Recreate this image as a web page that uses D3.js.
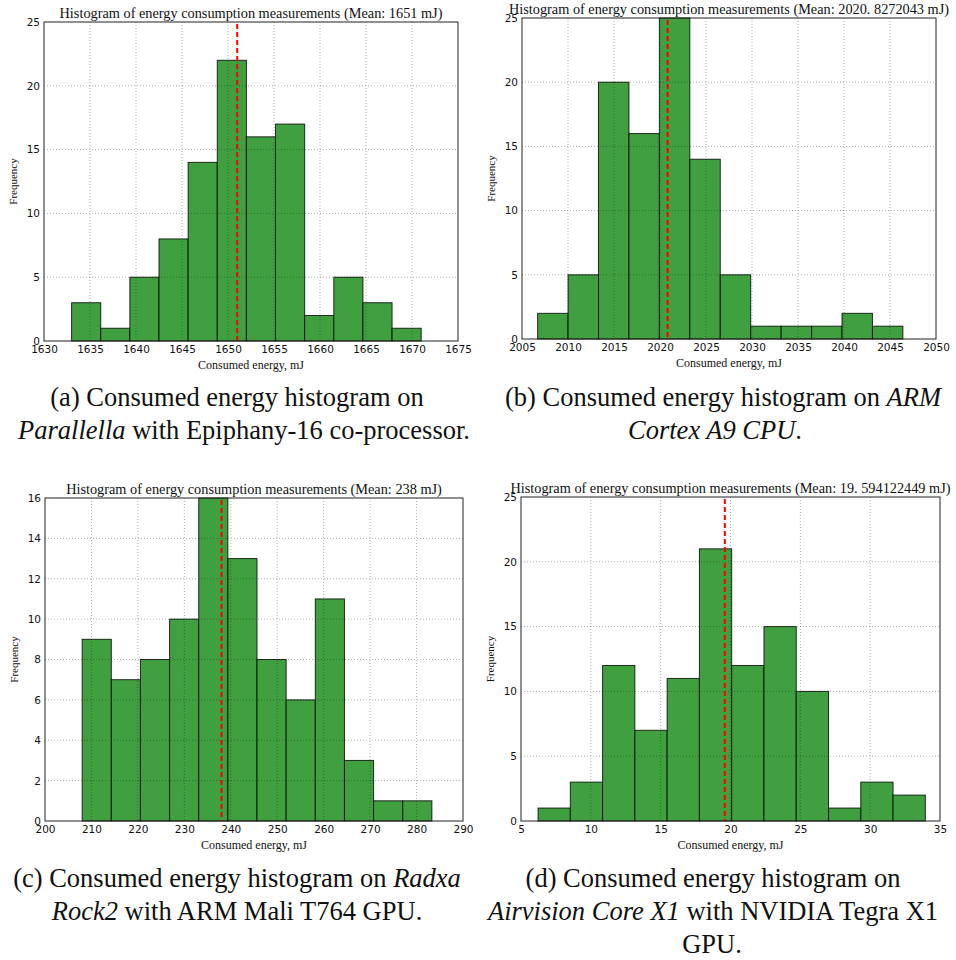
<!DOCTYPE html>
<html lang="en">
<head>
    <meta charset="utf-8">
    <title>Energy histograms</title>
    <style>
        body { margin: 0; background: #fff; }
        .grid line { stroke: #000; stroke-opacity: 0.45; stroke-width: 0.7px; stroke-dasharray: 1,2; }
        .bar { fill: #40a040; stroke: #000; stroke-opacity: 0.8; stroke-width: 1px; }
        .frame { fill: none; stroke: #222; stroke-width: 1px; }
        .tick text { font-family: "DejaVu Sans", sans-serif; font-size: 10.5px; fill: #111; }
        .title, .xlab, .ylab, .caption { font-family: "Liberation Serif", serif; fill: #111; }
        .mean { stroke: #ff0000; stroke-width: 2px; stroke-dasharray: 5,3; }
    </style>
</head>
<body>
<script src="https://d3js.org/d3.v7.min.js"></script>
<script>
  // bin range (first edge, last edge) and counts, 12 bins each
  const rangeA = [1633.0, 1671.0],
    countsA = [3, 1, 5, 8, 14, 22, 16, 17, 2, 5, 3, 1];
  const rangeB = [2006.7, 2046.4],
    countsB = [2, 5, 20, 16, 25, 14, 5, 1, 1, 1, 2, 1];
  const rangeC = [208.0, 283.3],
    countsC = [9, 7, 8, 10, 16, 13, 8, 6, 11, 3, 1, 1];
  const rangeD = [6.22, 33.95],
    countsD = [1, 3, 12, 7, 11, 21, 12, 15, 10, 1, 3, 2];

  const means = [1651, 2020.8272043, 238, 19.594122449];
  const meanLabels = ["1651", "2020. 8272043", "238", "19. 594122449"];

  const xDomains = [[1630, 1675], [2005, 2050], [200, 290], [5, 35]];
  const xTicks = [
    [1630, 1635, 1640, 1645, 1650, 1655, 1660, 1665, 1670, 1675],
    [2005, 2010, 2015, 2020, 2025, 2030, 2035, 2040, 2045, 2050],
    [200, 210, 220, 230, 240, 250, 260, 270, 280, 290],
    [5, 10, 15, 20, 25, 30, 35]
  ];
  const yMax = [25, 25, 16, 25];
  const yTicks = [
    [0, 5, 10, 15, 20, 25],
    [0, 5, 10, 15, 20, 25],
    [0, 2, 4, 6, 8, 10, 12, 14, 16],
    [0, 5, 10, 15, 20, 25]
  ];

  const captions = [
    [{t: "(a) Consumed energy histogram on"}, {t: "", i: "Parallella", r: " with Epiphany-16 co-processor."}],
    [{t: "(b) Consumed energy histogram on ", i: "ARM"}, {t: "", i: "Cortex A9 CPU", r: "."}],
    [{t: "(c) Consumed energy histogram on ", i: "Radxa"}, {t: "", i: "Rock2", r: " with ARM Mali T764 GPU."}],
    [{t: "(d) Consumed energy histogram on"}, {t: "", i: "Airvision Core X1", r: " with NVIDIA Tegra X1"}, {t: "GPU."}]
  ];

  // plot boxes [left, top, right, bottom] and caption placement
  const boxes = [[44, 22, 458, 341], [522, 18, 936, 339], [45, 498, 463, 821], [521, 497, 940, 821]];
  const captionCenters = [[237, 244], [723, 715], [237, 237], [713, 713, 712]];
  const captionTops = [406, 406, 887, 887];

  const svg = d3.select("body").append("svg")
    .attr("width", 956)
    .attr("height", 960);

  const ranges = [rangeA, rangeB, rangeC, rangeD],
    counts = [countsA, countsB, countsC, countsD];

  ranges.forEach(function(rng, k) {
    const b = boxes[k];
    const x = d3.scaleLinear().domain(xDomains[k]).range([b[0], b[2]]);
    const y = d3.scaleLinear().domain([0, yMax[k]]).range([b[3], b[1]]);
    const n = counts[k].length,
      w = (rng[1] - rng[0]) / n;
    const bins = counts[k].map(function(c, j) {
      return {x0: rng[0] + j * w, x1: rng[0] + (j + 1) * w, c: c};
    });

    const g = svg.append("g");

    g.append("rect")
      .attr("x", b[0]).attr("y", b[1])
      .attr("width", b[2] - b[0]).attr("height", b[3] - b[1])
      .attr("fill", "#fff");

    g.selectAll("rect.bar")
      .data(bins)
      .enter().append("rect")
      .attr("class", "bar")
      .attr("x", function(d) { return x(d.x0); })
      .attr("width", function(d) { return x(d.x1) - x(d.x0); })
      .attr("y", function(d) { return y(d.c); })
      .attr("height", function(d) { return y(0) - y(d.c); });

    // grid on top (classic style)
    const grid = g.append("g").attr("class", "grid");
    grid.selectAll("line.v")
      .data(xTicks[k].slice(1, -1))
      .enter().append("line")
      .attr("x1", function(d) { return x(d); }).attr("x2", function(d) { return x(d); })
      .attr("y1", b[1]).attr("y2", b[3]);
    grid.selectAll("line.h")
      .data(yTicks[k].slice(1, -1))
      .enter().append("line")
      .attr("y1", function(d) { return y(d); }).attr("y2", function(d) { return y(d); })
      .attr("x1", b[0]).attr("x2", b[2]);

    g.append("line")
      .attr("class", "mean")
      .attr("x1", x(means[k])).attr("x2", x(means[k]))
      .attr("y1", b[1] + 2).attr("y2", b[3]);

    g.append("rect")
      .attr("class", "frame")
      .attr("x", b[0]).attr("y", b[1])
      .attr("width", b[2] - b[0]).attr("height", b[3] - b[1]);

    g.append("g")
      .attr("transform", "translate(0," + b[3] + ")")
      .call(d3.axisBottom(x).tickValues(xTicks[k]).tickSize(0).tickPadding(5).tickFormat(d3.format("d")))
      .call(function(a) { a.select(".domain").remove(); });

    g.append("g")
      .attr("transform", "translate(" + b[0] + ",0)")
      .call(d3.axisLeft(y).tickValues(yTicks[k]).tickSize(0).tickPadding(4).tickFormat(d3.format("d")))
      .call(function(a) { a.select(".domain").remove(); });

    const cx = (b[0] + b[2]) / 2;

    g.append("text")
      .attr("class", "title")
      .attr("x", cx).attr("y", b[1] - 4)
      .attr("text-anchor", "middle")
      .style("font-size", "14.3px")
      .text("Histogram of energy consumption measurements (Mean: " + meanLabels[k] + " mJ)");

    g.append("text")
      .attr("class", "xlab")
      .attr("x", cx).attr("y", b[3] + 28)
      .attr("text-anchor", "middle")
      .style("font-size", "12px")
      .text("Consumed energy, mJ");

    g.append("text")
      .attr("class", "ylab")
      .attr("transform", "translate(" + (b[0] - 27) + "," + ((b[1] + b[3]) / 2) + ") rotate(-90)")
      .attr("text-anchor", "middle")
      .style("font-size", "11px")
      .text("Frequency");

    captions[k].forEach(function(line, li) {
      const t = svg.append("text")
        .attr("class", "caption")
        .attr("x", captionCenters[k][li])
        .attr("y", captionTops[k] + li * 33)
        .attr("text-anchor", "middle")
        .style("font-size", "26.5px");
      if (line.t) t.append("tspan").text(line.t);
      if (line.i) t.append("tspan").style("font-style", "italic").text(line.i);
      if (line.r) t.append("tspan").text(line.r);
    });
  });
</script>
</body>
</html>
